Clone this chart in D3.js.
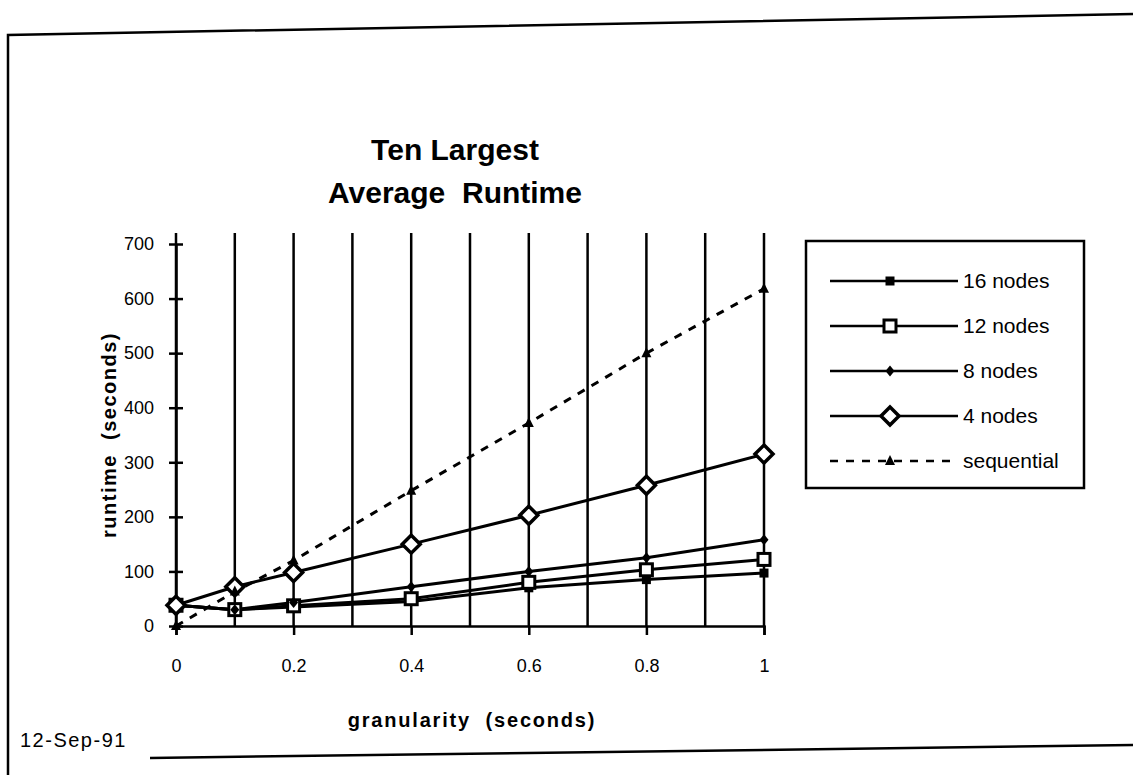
<!DOCTYPE html>
<html>
<head>
<meta charset="utf-8">
<script src="https://cdn.jsdelivr.net/npm/d3@7"></script>
<style>
  body { margin: 0; background: #fff; }
  text { fill: #000; }
</style>
</head>
<body>
<div id="chart"></div>
<script>
// granularity values (x) and runtimes per series
const granularity = [0, 0.1, 0.2, 0.4, 0.6, 0.8, 1];
const nodes16 = [38, 30, 35, 45, 70, 85, 97];
const nodes12 = [38, 30, 37, 50, 80, 103, 122];
const nodes8 = [38, 30, 43, 72, 100, 125, 158];
const nodes4 = [38, 72, 98, 150, 203, 258, 315];
const sequential = [0, 63, 120, 248, 372, 500, 618];
const seriesNames = ["16 nodes", "12 nodes", "8 nodes", "4 nodes", "sequential"];
const yTicks = [0, 100, 200, 300, 400, 500, 600, 700];
const xTicks = [0, 0.2, 0.4, 0.6, 0.8, 1];
const gridX = [0, 0.1, 0.2, 0.3, 0.4, 0.5, 0.6, 0.7, 0.8, 0.9, 1];

const width = 1133, height = 775;
const svg = d3.select("#chart").append("svg")
    .attr("width", width)
    .attr("height", height);

const sans = "'Liberation Sans', Arial, sans-serif";

// page frame (scan is a bit tilted)
svg.append("path")
    .attr("d", "M8,775 L8,35 L1133,14")
    .attr("fill", "none").attr("stroke", "#000").attr("stroke-width", 2.5);
svg.append("path")
    .attr("d", "M150,758 L1133,745")
    .attr("fill", "none").attr("stroke", "#000").attr("stroke-width", 2.5);

var x = d3.scaleLinear().domain([0, 1]).range([176, 764]);
var y = d3.scaleLinear().domain([0, 700]).range([626, 244]);

// title
svg.append("text")
    .attr("x", 455).attr("y", 160)
    .attr("text-anchor", "middle")
    .attr("font-family", sans).attr("font-weight", "bold").attr("font-size", 30)
    .text("Ten Largest");
svg.append("text")
    .attr("x", 455).attr("y", 203)
    .attr("text-anchor", "middle")
    .attr("font-family", sans).attr("font-weight", "bold").attr("font-size", 30)
    .style("white-space", "pre")
    .text("Average  Runtime");

// vertical grid lines
svg.selectAll("line.grid")
    .data(gridX)
    .enter()
    .append("line")
    .attr("class", "grid")
    .attr("x1", d => x(d)).attr("x2", d => x(d))
    .attr("y1", y(720)).attr("y2", y(0))
    .attr("stroke", "#000").attr("stroke-width", 2.5);

// y axis
var yAxis = d3.axisLeft(y).tickValues(yTicks).tickSize(0).tickPadding(22);
var gy = svg.append("g").attr("transform", `translate(${x(0)},0)`).call(yAxis);
gy.select(".domain").attr("stroke", "#000").attr("stroke-width", 2.5);
gy.selectAll("text").attr("font-family", sans).attr("font-size", 18);
gy.selectAll(".tick").append("line")
    .attr("x1", -7).attr("x2", 7)
    .attr("stroke", "#000").attr("stroke-width", 2.5);

// x axis
var xAxis = d3.axisBottom(x).tickValues(xTicks).tickSize(9).tickPadding(24)
    .tickFormat(d => d3.format("")(d));
var gx = svg.append("g").attr("transform", `translate(0,${y(0)})`).call(xAxis);
gx.select(".domain").attr("stroke", "#000").attr("stroke-width", 2.5);
gx.selectAll(".tick line").attr("stroke", "#000").attr("stroke-width", 2.5);
gx.selectAll("text").attr("font-family", sans).attr("font-size", 18);

// axis titles
svg.append("text")
    .attr("transform", "translate(116,435) rotate(-90)")
    .attr("text-anchor", "middle")
    .attr("font-family", sans).attr("font-weight", "bold").attr("font-size", 20)
    .attr("letter-spacing", 1.5)
    .style("white-space", "pre")
    .text("runtime  (seconds)");
svg.append("text")
    .attr("x", 472).attr("y", 727)
    .attr("text-anchor", "middle")
    .attr("font-family", sans).attr("font-weight", "bold").attr("font-size", 20)
    .attr("letter-spacing", 1.8)
    .style("white-space", "pre")
    .text("granularity  (seconds)");

svg.append("text")
    .attr("x", 20).attr("y", 747)
    .attr("font-family", sans).attr("font-size", 20)
    .attr("letter-spacing", 1.5)
    .text("12-Sep-91");

// series
var series = [
    { name: seriesNames[0], values: nodes16, marker: "fsquare", dash: null },
    { name: seriesNames[1], values: nodes12, marker: "osquare", dash: null },
    { name: seriesNames[2], values: nodes8, marker: "fdiamond", dash: null },
    { name: seriesNames[3], values: nodes4, marker: "odiamond", dash: null },
    { name: seriesNames[4], values: sequential, marker: "triangle", dash: "8,8" }
];

var line = d3.line()
    .x(d => x(d[0]))
    .y(d => y(d[1]));

const drawMarker = (g, kind) => {
    if (kind == "fsquare") {
        g.append("rect").attr("x", -4.5).attr("y", -4.5).attr("width", 9).attr("height", 9)
            .attr("fill", "#000");
    } else if (kind == "osquare") {
        g.append("rect").attr("x", -6).attr("y", -6).attr("width", 12).attr("height", 12)
            .attr("fill", "#fff").attr("stroke", "#000").attr("stroke-width", 3);
    } else if (kind == "fdiamond") {
        g.append("path").attr("d", "M0,-5.5 L4.5,0 L0,5.5 L-4.5,0 Z")
            .attr("fill", "#000");
    } else if (kind == "odiamond") {
        g.append("path").attr("d", "M0,-9 L9,0 L0,9 L-9,0 Z")
            .attr("fill", "#fff").attr("stroke", "#000").attr("stroke-width", 3.5);
    } else {
        g.append("path").attr("d", "M0,-6 L5,4 L-5,4 Z")
            .attr("fill", "#000");
    }
};

series.forEach((s) => {
    var pts = granularity.map((g, i) => [g, s.values[i]]);
    svg.append("path")
        .datum(pts)
        .attr("fill", "none")
        .attr("stroke", "#000")
        .attr("stroke-width", 3)
        .attr("stroke-dasharray", s.dash)
        .attr("d", line);
});

series.forEach((s) => {
    granularity.forEach((g, i) => {
        var m = svg.append("g")
            .attr("transform", `translate(${x(g)},${y(s.values[i])})`);
        drawMarker(m, s.marker);
    });
});

// legend
var legend = svg.append("g");
legend.append("rect")
    .attr("x", 806).attr("y", 241).attr("width", 278).attr("height", 247)
    .attr("fill", "#fff").attr("stroke", "#000").attr("stroke-width", 2.5);

var items = legend.selectAll("g.item")
    .data(series)
    .enter()
    .append("g")
    .attr("class", "item")
    .attr("transform", (_, i) => `translate(0,${281 + i * 45})`);

items.append("line")
    .attr("x1", 830).attr("x2", 958)
    .attr("stroke", "#000").attr("stroke-width", 2.5)
    .attr("stroke-dasharray", d => d.dash);
items.each(function (d) {
    var m = d3.select(this).append("g").attr("transform", "translate(890,0)");
    drawMarker(m, d.marker);
});
items.append("text")
    .attr("x", 963).attr("y", 7)
    .attr("font-family", sans).attr("font-size", 21)
    .text(d => d.name);
</script>
</body>
</html>
